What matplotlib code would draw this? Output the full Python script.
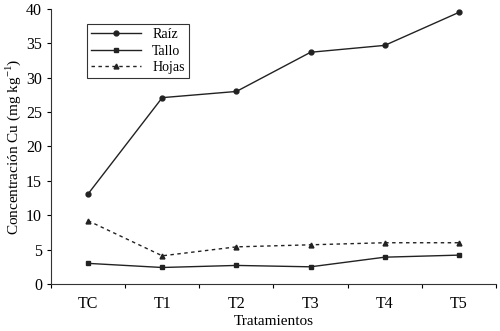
import matplotlib
matplotlib.use('Agg')
import matplotlib.pyplot as plt

categorias = ['TC', 'T1', 'T2', 'T3', 'T4', 'T5']
raiz = [13.1, 27.1, 28.0, 33.7, 34.7, 39.5]
tallo = [3.0, 2.4, 2.7, 2.5, 3.9, 4.2]
hojas = [9.2, 4.1, 5.4, 5.7, 6.0, 6.0]
yticks = [0, 5, 10, 15, 20, 25, 30, 35, 40]

plt.rcParams['font.family'] = ['Liberation Serif', 'DejaVu Serif']
plt.rcParams['mathtext.fontset'] = 'custom'
plt.rcParams['mathtext.rm'] = 'Liberation Serif'

fig = plt.figure(figsize=(5, 3.31), dpi=100, facecolor='white')
ax = fig.add_axes([0.102, 0.142, 0.890, 0.831])

x = list(range(len(categorias)))
ax.plot(x, raiz, color='#222222', lw=1.0, marker='o', ms=3.5, label='Raíz')
ax.plot(x, tallo, color='#222222', lw=1.0, marker='s', ms=3.5, label='Tallo')
ax.plot(x, hojas, color='#222222', lw=1.0, ls=(0, (2.5, 2.5)), marker='^', ms=3.5, label='Hojas')

ax.set_xlim(-0.5, len(categorias) - 0.5)
ax.set_ylim(0, 40)
ax.set_yticks(yticks)
ax.set_yticklabels([str(v) for v in yticks], fontsize=11.5)

# ticks on category boundaries, labels centred
ax.set_xticks([i - 0.5 for i in range(len(categorias) + 1)])
ax.set_xticklabels([])
ax.set_xticks(x, minor=True)
ax.set_xticklabels(categorias, minor=True, fontsize=11.5)
ax.tick_params(axis='x', which='minor', length=0, pad=9)
ax.tick_params(axis='x', which='major', direction='out', length=3)
ax.tick_params(axis='y', direction='out', length=3)

for s in ['top', 'right']:
    ax.spines[s].set_visible(False)
for s in ['left', 'bottom']:
    ax.spines[s].set_color('#333333')

ax.set_xlabel('Tratamientos', fontsize=11, labelpad=2)
ax.set_ylabel('Concentración Cu (mg kg$^{\\mathrm{-1}}$)', fontsize=11, labelpad=2)

leg = ax.legend(loc='upper left', bbox_to_anchor=(0.065, 0.97), fontsize=10,
                frameon=True, fancybox=False, edgecolor='black',
                handlelength=3.6, borderpad=0.3, labelspacing=0.25)
leg.get_frame().set_linewidth(0.8)

fig.savefig('out.png', dpi=100)
